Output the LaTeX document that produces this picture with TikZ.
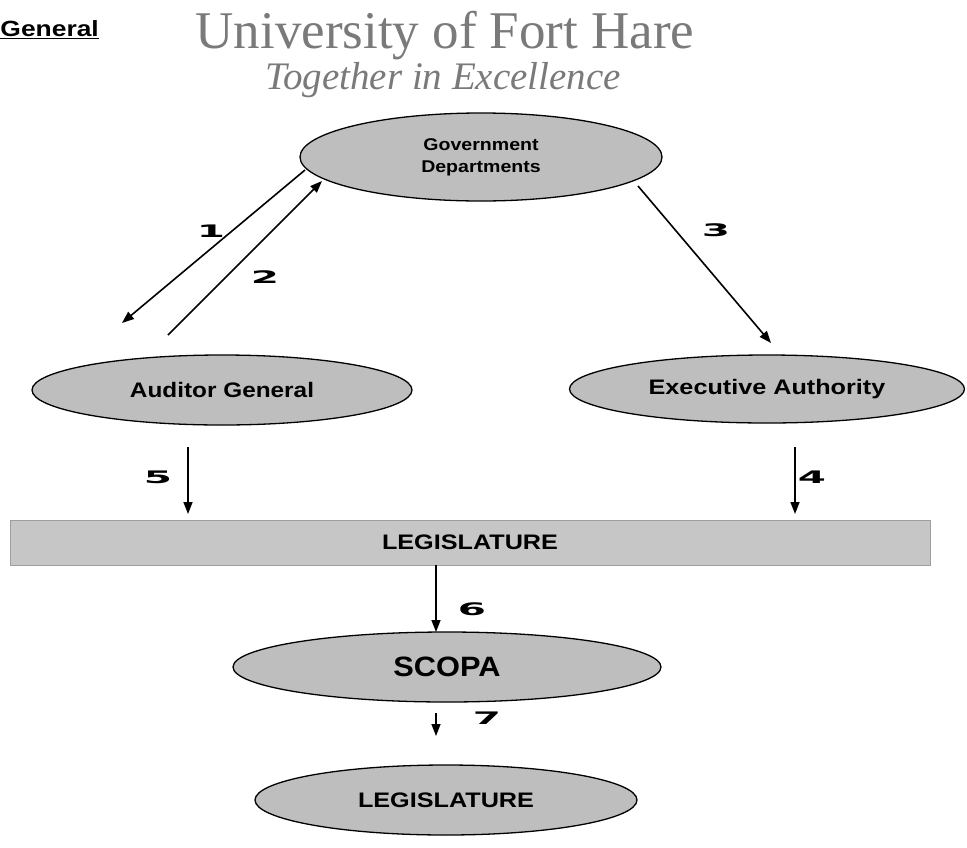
\documentclass[tikz,border=0pt]{standalone}
\usepackage{fontspec}
\setmainfont{Liberation Serif}
\setsansfont{Liberation Sans}
\newfontfamily\digitfont{DejaVu Sans}
\usetikzlibrary{shapes.geometric,arrows.meta}
\definecolor{titlegray}{HTML}{7A7A7A}
\definecolor{shapefill}{HTML}{BEBEBE}
\definecolor{barfill}{HTML}{C6C6C6}
\newcommand\numlab[1]{\scalebox{2.7}[1.15]{\digitfont\bfseries\fontsize{15}{15}\selectfont #1}}
\newcommand\widetext[2]{\scalebox{#1}[1]{#2}}
\begin{document}
\begin{tikzpicture}[x=1pt,y=-1pt,
  oval/.style={ellipse,draw=black,line width=1.3pt,fill=shapefill,inner sep=0pt},
  lab/.style={font=\sffamily\bfseries\fontsize{21}{24}\selectfont},
  conn/.style={line width=1.6pt,-{Triangle[length=12pt,width=9pt]}},
  numnode/.style={inner sep=0pt}]
\useasboundingbox (0,0) rectangle (967,847);
\fill[white] (0,0) rectangle (967,847);
% header
\node[anchor=east,inner sep=0pt,font=\sffamily\bfseries\fontsize{22}{24}\selectfont] (gen) at (99,30) {\widetext{1.2}{\underline{General}}};
\node[inner sep=0pt,text=titlegray,font=\fontsize{53}{56}\selectfont] (uni) at (445,36) {University of Fort Hare};
\node[inner sep=0pt,text=titlegray,font=\itshape\fontsize{39}{42}\selectfont] (tog) at (443,80) {Together in Excellence};
% nodes
\node[oval,minimum width=362pt,minimum height=88pt,align=center,font=\sffamily\bfseries\fontsize{17}{22}\selectfont] (gov) at (481,157) {\widetext{1.15}{Government}\\\widetext{1.15}{Departments}};
\node[oval,minimum width=380pt,minimum height=70pt,lab] (ag) at (222,390) {\widetext{1.16}{Auditor General}};
\node[oval,minimum width=395pt,minimum height=68pt,lab] (ea) at (767,389) {\widetext{1.2}{Executive Authority}\vphantom{g}};
\node[rectangle,fill=barfill,draw=barfill!80!black,line width=0.4pt,minimum width=920pt,minimum height=45pt,inner sep=0pt,lab] (leg) at (470,542.5) {\widetext{1.2}{LEGISLATURE}};
\node[oval,minimum width=428pt,minimum height=70pt,font=\sffamily\bfseries\fontsize{28}{30}\selectfont] (scopa) at (447,667) {\widetext{1.1}{SCOPA}};
\node[oval,minimum width=382pt,minimum height=70pt,lab] (leg2) at (446,800) {\widetext{1.2}{LEGISLATURE}};
% connector ends
\coordinate (c1s) at (305,170);
\coordinate (c1e) at (122,323);
\coordinate (c2s) at (168,335);
\coordinate (c2e) at (322,181);
\coordinate (c3s) at (638,186);
\coordinate (c3e) at (771,343);
\coordinate (c4s) at (795,447);
\coordinate (c4e) at (795,514);
\coordinate (c5s) at (188,447);
\coordinate (c5e) at (188,514);
\coordinate (c6s) at (436,565);
\coordinate (c6e) at (436,632);
\coordinate (c7s) at (436,713);
\coordinate (c7e) at (436,736);
\draw[conn] (c1s) -- (c1e);
\draw[conn] (c2s) -- (c2e);
\draw[conn] (c3s) -- (c3e);
\draw[conn] (c4s) -- (c4e);
\draw[conn] (c5s) -- (c5e);
\draw[conn] (c6s) -- (c6e);
\draw[conn] (c7s) -- (c7e);
% number labels
\node[numnode] (n1) at (211,231) {\numlab{1}};
\node[numnode] (n2) at (265,277) {\numlab{2}};
\node[numnode] (n3) at (716,230) {\numlab{3}};
\node[numnode] (n4) at (812,477) {\numlab{4}};
\node[numnode] (n5) at (158,477) {\numlab{5}};
\node[numnode] (n6) at (472,609) {\numlab{6}};
\node[numnode] (n7) at (487,718) {\numlab{7}};
\end{tikzpicture}
\end{document}
